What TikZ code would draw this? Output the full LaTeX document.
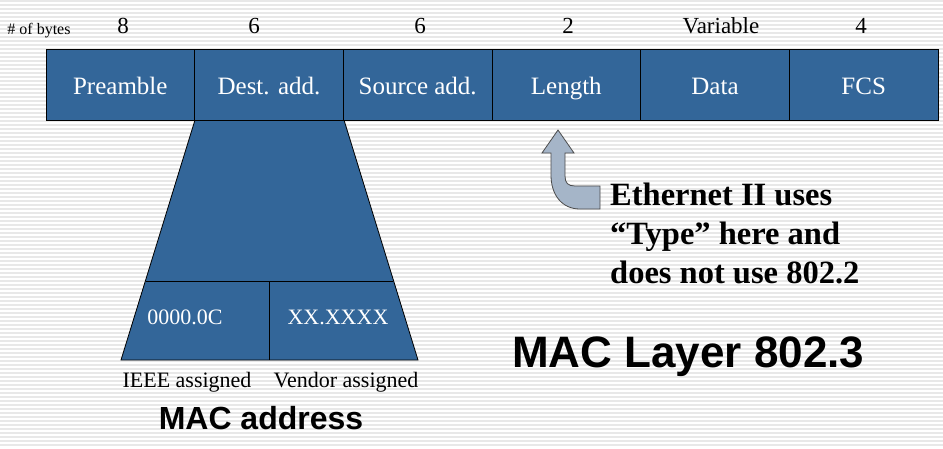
\documentclass[tikz,border=0pt]{standalone}
\usepackage{fontspec}
\setmainfont{Liberation Serif}
\setsansfont{Liberation Sans}
\definecolor{macblue}{RGB}{51,102,153}
\definecolor{arrowgray}{RGB}{165,181,200}
\begin{document}
\begin{tikzpicture}
  [x=1pt,y=-1pt,
   field/.style={rectangle,draw=black,line width=0.8pt,fill=macblue,text=white,
     minimum width=148.67pt,minimum height=71pt,inner sep=0pt,
     text height=22pt,text depth=3pt,
     font=\fontsize{25}{30}\selectfont},
   count/.style={anchor=base,inner sep=0pt,font=\fontsize{23}{28}\selectfont},
   part/.style={text=white,inner sep=0pt,font=\fontsize{22}{26}\selectfont},
   caption/.style={anchor=base,inner sep=0pt,font=\fontsize{22}{26}\selectfont},
   heading/.style={inner sep=0pt,font=\sffamily\bfseries}]
  \useasboundingbox (0,0) rectangle (943,448);
  \fill[white] (0,0) rectangle (943,448);
  \foreach \y in {1,5,...,445}
    \draw[gray!18,line width=1.6pt] (0,\y) -- (943,\y);

  \node[count,font=\fontsize{16}{19}\selectfont] (bytes) at (39,34) {\# of bytes};
  \node[count] (n1) at (123,33) {8};
  \node[count] (n2) at (254,33) {6};
  \node[count] (n3) at (420,33) {6};
  \node[count] (n4) at (568,33) {2};
  \node[count] (n5) at (721,33) {Variable};
  \node[count] (n6) at (861,33) {4};

  \coordinate (bl) at (121,360);
  \coordinate (br) at (418,360);
  \coordinate (ml) at (146,281);
  \coordinate (mr) at (393,281);
  \coordinate (mid) at (269,281);
  \coordinate (midb) at (269,360);

  \draw[fill=macblue,line width=0.8pt] (195,120) -- (344,120) -- (br) -- (bl) -- cycle;
  \draw[line width=0.8pt] (ml) -- (mr);
  \draw[line width=0.8pt] (mid) -- (midb);

  \node[field] (pre) at (120.3,84.5) {Preamble};
  \node[field] (dst) at (269,84.5) {Dest. add.};
  \node[field] (src) at (417.7,84.5) {Source add.};
  \node[field] (len) at (566.3,84.5) {Length};
  \node[field] (data) at (715,84.5) {Data};
  \node[field] (fcs) at (863.7,84.5) {FCS};

  \node[part] (oui) at (185,317) {0000.0C};
  \node[part] (nic) at (338,317) {XX.XXXX};
  \node[caption] (ieee) at (187,387) {IEEE assigned};
  \node[caption] (vendor) at (346,387) {Vendor assigned};
  \node[heading,anchor=base,font=\sffamily\bfseries\fontsize{32}{38}\selectfont] (addr) at (261,429) {MAC address};
  \node[heading,anchor=base west,font=\sffamily\bfseries\fontsize{44}{52}\selectfont] (layer) at (512,367) {MAC Layer 802.3};

  % bent arrow pointing at the Length field
  \draw[fill=arrowgray,draw=black!70,line width=0.8pt]
    (558,130) -- (574,153) -- (565,153) -- (565,176)
    .. controls (565,183) and (568,186) .. (575,186) -- (600,186) -- (600,209) -- (580,209)
    .. controls (562,209) and (551,195) .. (551,175) -- (551,153) -- (542,153) -- cycle;
  \node[inner sep=0pt,anchor=north west,align=left,font=\bfseries\fontsize{32.5}{39}\selectfont]
    (note) at (610,183) {Ethernet II uses\\``Type'' here and\\does not use 802.2};
\end{tikzpicture}
\end{document}
